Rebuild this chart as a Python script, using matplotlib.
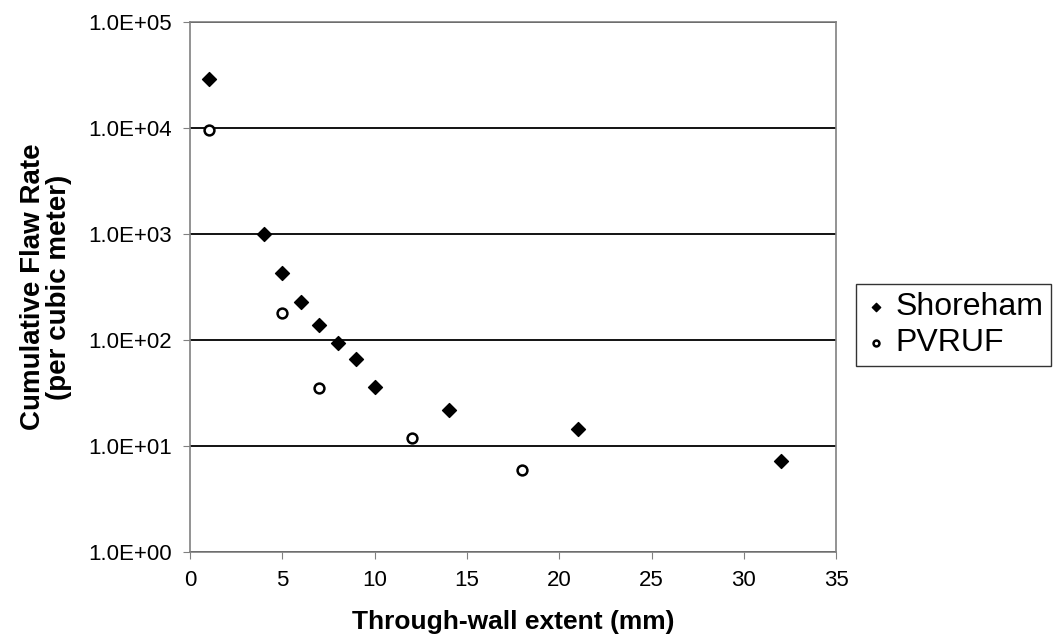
import matplotlib.pyplot as plt
from matplotlib.ticker import FuncFormatter
from matplotlib import font_manager

plt.rcParams['font.family'] = ['Liberation Sans', 'DejaVu Sans']

# Shoreham data
shoreham_x = [1, 4, 5, 6, 7, 8, 9, 10, 14, 21, 32]
shoreham_y = [29000, 1000, 430, 230, 138, 93, 66, 36, 22, 14.5, 7.2]

# PVRUF data
pvruf_x = [1, 5, 7, 12, 18]
pvruf_y = [9500, 180, 35, 12, 6]

names = {f.name for f in font_manager.fontManager.ttflist}
label_family = ['Liberation Sans Narrow'] if 'Liberation Sans Narrow' in names else ['Liberation Sans']
print(label_family)

fig = plt.figure(figsize=(10.57, 6.42), dpi=100)
ax = fig.add_axes([0.1798, 0.1402, 0.6113, 0.8255])

ax.scatter(shoreham_x, shoreham_y, marker='D', s=50, color='black',
           label='Shoreham', zorder=3)
ax.scatter(pvruf_x, pvruf_y, marker='o', s=50, facecolor='white',
           edgecolor='black', linewidth=1.8, label='PVRUF', zorder=3)

ax.set_yscale('log')
ax.set_ylim(1, 1e5)
ax.set_xlim(0, 35)
ax.set_xticks(range(0, 36, 5))
ax.set_yticks([1, 10, 100, 1e3, 1e4, 1e5])
ax.yaxis.set_minor_locator(plt.NullLocator())
ax.yaxis.set_major_formatter(FuncFormatter(lambda v, p: '%.1E' % v))

ax.grid(axis='y', color='black', linewidth=1.3)
for s in ax.spines.values():
    s.set_color('#808080')
    s.set_linewidth(1.2)
ax.tick_params(axis='both', labelsize=16, direction='out', length=5,
               color='#808080', pad=8)

big = label_family[0] == 'Liberation Sans Narrow'
ax.set_xlabel('Through-wall extent (mm)', fontsize=23 if big else 19,
              fontweight='bold', family=label_family, labelpad=14)
ax.set_ylabel('Cumulative Flaw Rate\n(per cubic meter)',
              fontsize=24 if big else 20, fontweight='bold',
              family=label_family, labelpad=12, linespacing=1.0)

leg = ax.legend(loc='center left', bbox_to_anchor=(1.03, 0.428), fontsize=23,
                frameon=True, fancybox=False, edgecolor='black',
                handletextpad=0.2, handlelength=0.8, borderpad=0.25,
                markerscale=0.6, labelspacing=0.2, borderaxespad=0)
leg.get_frame().set_linewidth(1.0)

plt.savefig('out.png', dpi=100)
